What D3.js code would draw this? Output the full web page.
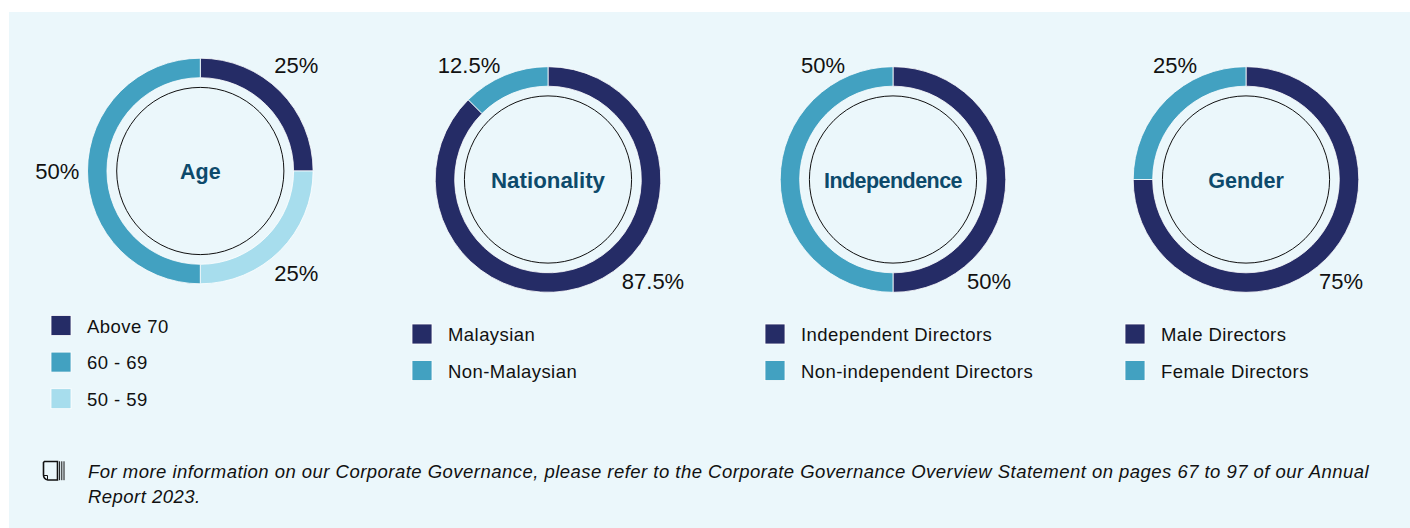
<!DOCTYPE html>
<html>
<head>
<meta charset="utf-8">
<script src="https://cdn.jsdelivr.net/npm/d3@7"></script>
<style>
  html, body { margin: 0; padding: 0; background: #fff; }
  svg { display: block; }
  text { font-family: "Liberation Sans", Arial, sans-serif; }
</style>
</head>
<body>
<div id="chart"></div>
<script>
const DARK = '#252c66'
const TEAL = '#42a1c1'
const LIGHT = '#a7dded'

// data, in legend order
const ageCategories = ['Above 70', '60 - 69', '50 - 59']
const ageValues = [25, 50, 25]
const ageLabels = ['25%', '50%', '25%']
const ageArcOrder = [0, 2, 1] // clockwise from the top

const nationalityCategories = ['Malaysian', 'Non-Malaysian']
const nationalityValues = [87.5, 12.5]
const nationalityLabels = ['87.5%', '12.5%']

const independenceCategories = ['Independent Directors', 'Non-independent Directors']
const independenceValues = [50, 50]
const independenceLabels = ['50%', '50%']

const genderCategories = ['Male Directors', 'Female Directors']
const genderValues = [75, 25]
const genderLabels = ['75%', '25%']

const footnoteLines = [
  'For more information on our Corporate Governance, please refer to the Corporate Governance Overview Statement on pages 67 to 97 of our Annual',
  'Report 2023.'
]

// layout: one entry per donut
const donuts = [
  {title: 'Age', titleSize: 21.5, titleSpacing: 0, categories: ageCategories, values: ageValues, labels: ageLabels, order: ageArcOrder,
    colors: [DARK, TEAL, LIGHT], cx: 200.3, cy: 171, legendX: 51, legendY: 325.5,
    labelAt: [[96, -106], [-143, 0], [96, 102]]},
  {title: 'Nationality', titleSize: 22.3, titleSpacing: 0, categories: nationalityCategories, values: nationalityValues, labels: nationalityLabels,
    colors: [DARK, TEAL], cx: 548, cy: 179.5, legendX: 412, legendY: 334,
    labelAt: [[105, 101.5], [-79, -114.5]]},
  {title: 'Independence', titleSize: 21.5, titleSpacing: -0.55, categories: independenceCategories, values: independenceValues, labels: independenceLabels,
    colors: [DARK, TEAL], cx: 893, cy: 179.5, legendX: 765, legendY: 334,
    labelAt: [[96, 101.5], [-70, -114.5]]},
  {title: 'Gender', titleSize: 21.6, titleSpacing: 0, categories: genderCategories, values: genderValues, labels: genderLabels,
    colors: [DARK, TEAL], cx: 1246, cy: 179.5, legendX: 1125, legendY: 334,
    labelAt: [[95, 101.5], [-71, -114.5]]}
]

const width = 1410
const height = 528
const outerRadius = 112.8
const innerRadius = 93.3
const ringRadius = 83.6

const svg = d3.select('#chart').append('svg')
  .attr('width', width)
  .attr('height', height)

svg.append('rect')
  .attr('x', 9)
  .attr('y', 12)
  .attr('width', width - 9)
  .attr('height', height - 12)
  .attr('fill', '#ebf7fb')

const arc = d3.arc().innerRadius(innerRadius).outerRadius(outerRadius)

donuts.forEach(d => {
  const order = d.order || d.values.map((v, i) => i)
  const pie = d3.pie()
    .value(i => d.values[i])
    .sort(null)
  const g = svg.append('g').attr('transform', `translate(${d.cx}, ${d.cy})`)

  g.selectAll('path')
    .data(pie(order))
    .enter()
    .append('path')
    .attr('d', arc)
    .attr('fill', s => d.colors[s.data])
    .attr('stroke', '#fff')
    .attr('stroke-width', 0.8)

  g.append('circle')
    .attr('r', ringRadius)
    .attr('fill', 'none')
    .attr('stroke', '#111')
    .attr('stroke-width', 1)

  g.append('text')
    .attr('text-anchor', 'middle')
    .attr('y', 8)
    .attr('font-size', d.titleSize)
    .attr('font-weight', 700)
    .attr('letter-spacing', d.titleSpacing)
    .attr('fill', '#0d4a6b')
    .text(d.title)

  g.selectAll('text.pct')
    .data(d.labels)
    .enter()
    .append('text')
    .attr('class', 'pct')
    .attr('text-anchor', 'middle')
    .attr('x', (t, i) => d.labelAt[i][0])
    .attr('y', (t, i) => d.labelAt[i][1] + 8)
    .attr('font-size', 22)
    .attr('fill', '#111')
    .text(t => t)

  const rows = svg.append('g')
    .selectAll('g')
    .data(d.categories)
    .enter()
    .append('g')
    .attr('transform', (c, i) => `translate(${d.legendX}, ${d.legendY + i * 36.6})`)

  rows.append('rect')
    .attr('y', -10)
    .attr('width', 20)
    .attr('height', 20)
    .attr('fill', (c, i) => d.colors[i])
    .attr('stroke', '#fff')
    .attr('stroke-width', 0.8)

  rows.append('text')
    .attr('x', 36)
    .attr('y', 7.2)
    .attr('font-size', 18.5)
    .attr('letter-spacing', 0.44)
    .attr('fill', '#111')
    .text(c => c)
})

// footnote book icon
const icon = svg.append('g')
  .attr('transform', 'translate(43, 461)')
  .attr('fill', 'none')
  .attr('stroke', '#111')
icon.append('path')
  .attr('d', 'M1.5 0.5H14.5V19H5Q0.5 18 0.5 14V1.5Z')
  .attr('stroke-width', 1.6)
icon.append('path')
  .attr('d', 'M0.5 14.5H4.5V18.5')
  .attr('stroke-width', 1)
icon.selectAll('line.page')
  .data([16.6, 18.8, 21])
  .enter()
  .append('line')
  .attr('class', 'page')
  .attr('x1', x => x)
  .attr('x2', x => x)
  .attr('y1', 0.3)
  .attr('y2', 19.2)
  .attr('stroke-width', 1)

svg.selectAll('text.note')
  .data(footnoteLines)
  .enter()
  .append('text')
  .attr('class', 'note')
  .attr('x', 88)
  .attr('y', (t, i) => 477.7 + i * 25)
  .attr('font-size', 18.5)
  .attr('font-style', 'italic')
  .attr('letter-spacing', 0.47)
  .attr('fill', '#111')
  .text(t => t)
</script>
</body>
</html>
